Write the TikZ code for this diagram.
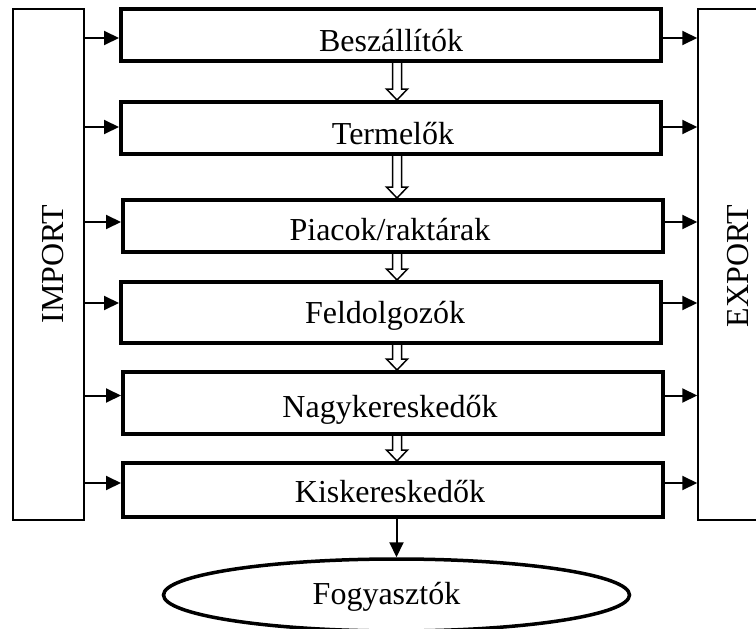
\documentclass[tikz,border=0pt]{standalone}
\usepackage{fontspec}
\setmainfont{Liberation Serif}
\usetikzlibrary{arrows.meta,shapes.geometric,calc}

% white block arrow pointing down, from #1 to #2
\newcommand\hollowdown[2]{%
  \path[hollow] let \p1=(#1), \p2=(#2) in
    (\x1-4.5pt,\y1) -- (\x1-4.5pt,\y2+11pt) -- (\x1-10.5pt,\y2+11pt) --
    (\x1,\y2) -- (\x1+10.5pt,\y2+11pt) -- (\x1+4.5pt,\y2+11pt) -- (\x1+4.5pt,\y1);}

\begin{document}
\begin{tikzpicture}[x=1pt,y=-1pt,
  stage/.style={draw, line width=4pt, minimum width=540pt, inner sep=0pt},
  side/.style={draw, line width=1.5pt, minimum width=71pt, minimum height=511pt, inner sep=0pt},
  lbl/.style={font=\fontsize{32}{38}\selectfont, anchor=base, inner sep=0pt},
  arr/.style={line width=2pt, -{Triangle[length=15pt,width=14pt]}},
  hollow/.style={draw, fill=white, line width=1.5pt, line join=miter}]
\useasboundingbox (0,0) rectangle (756,629);
\clip (0,0) rectangle (756,629);

% side blocks
\node[side] (imp) at (48.5,264.5) {};
\node[side] (exp) at (733.5,264.5) {};
\node[lbl, rotate=90, anchor=center] (impt) at (53,264) {IMPORT};
\node[lbl, rotate=90, anchor=center] (expt) at (738.5,266) {EXPORT};

% chain stages
\node[stage, minimum height=52pt] (b1) at (391,35) {};
\node[stage, minimum height=52pt] (b2) at (391,128) {};
\node[stage, minimum height=52pt] (b3) at (393,226) {};
\node[stage, minimum height=61pt] (b4) at (391,312.5) {};
\node[stage, minimum height=62pt] (b5) at (393,403) {};
\node[stage, minimum height=54pt] (b6) at (393,490) {};

% consumers
\node[draw, ellipse, line width=3.5pt, minimum width=466pt, minimum height=72pt, inner sep=0pt] (cons) at (396.5,595) {};

% rows of the import/export arrows
\coordinate (r1) at (0,38);
\coordinate (r2) at (0,127);
\coordinate (r3) at (0,222);
\coordinate (r4) at (0,303);
\coordinate (r5) at (0,395.5);
\coordinate (r6) at (0,483);
\foreach \i in {1,...,6}{
  \draw[arr] (imp.east |- r\i) -- (b\i.west |- r\i);
  \draw[arr] (b\i.east |- r\i) -- (exp.west |- r\i);
}

% flow between stages
\coordinate (hx) at (397,0);
\hollowdown{b1.south -| hx}{b2.north -| hx}
\hollowdown{b2.south -| hx}{b3.north -| hx}
\hollowdown{b3.south -| hx}{b4.north -| hx}
\hollowdown{b4.south -| hx}{b5.north -| hx}
\hollowdown{b5.south -| hx}{b6.north -| hx}
\draw[arr] (b6.south -| cons.north) -- (cons.north);

% labels
\node[lbl] (t1) at ($(b1.center)+(0,16)$) {Beszállítók};
\node[lbl] (t2) at ($(b2.center)+(2,16)$) {Termelők};
\node[lbl] (t3) at ($(b3.center)+(-3,14)$) {Piacok/raktárak};
\node[lbl] (t4) at ($(b4.center)+(-6,11)$) {Feldolgozók};
\node[lbl] (t5) at ($(b5.center)+(-3,14)$) {Nagykereskedők};
\node[lbl] (t6) at ($(b6.center)+(-3,12)$) {Kiskereskedők};
\node[lbl] (t7) at ($(cons.center)+(-10,9)$) {Fogyasztók};
\end{tikzpicture}
\end{document}
